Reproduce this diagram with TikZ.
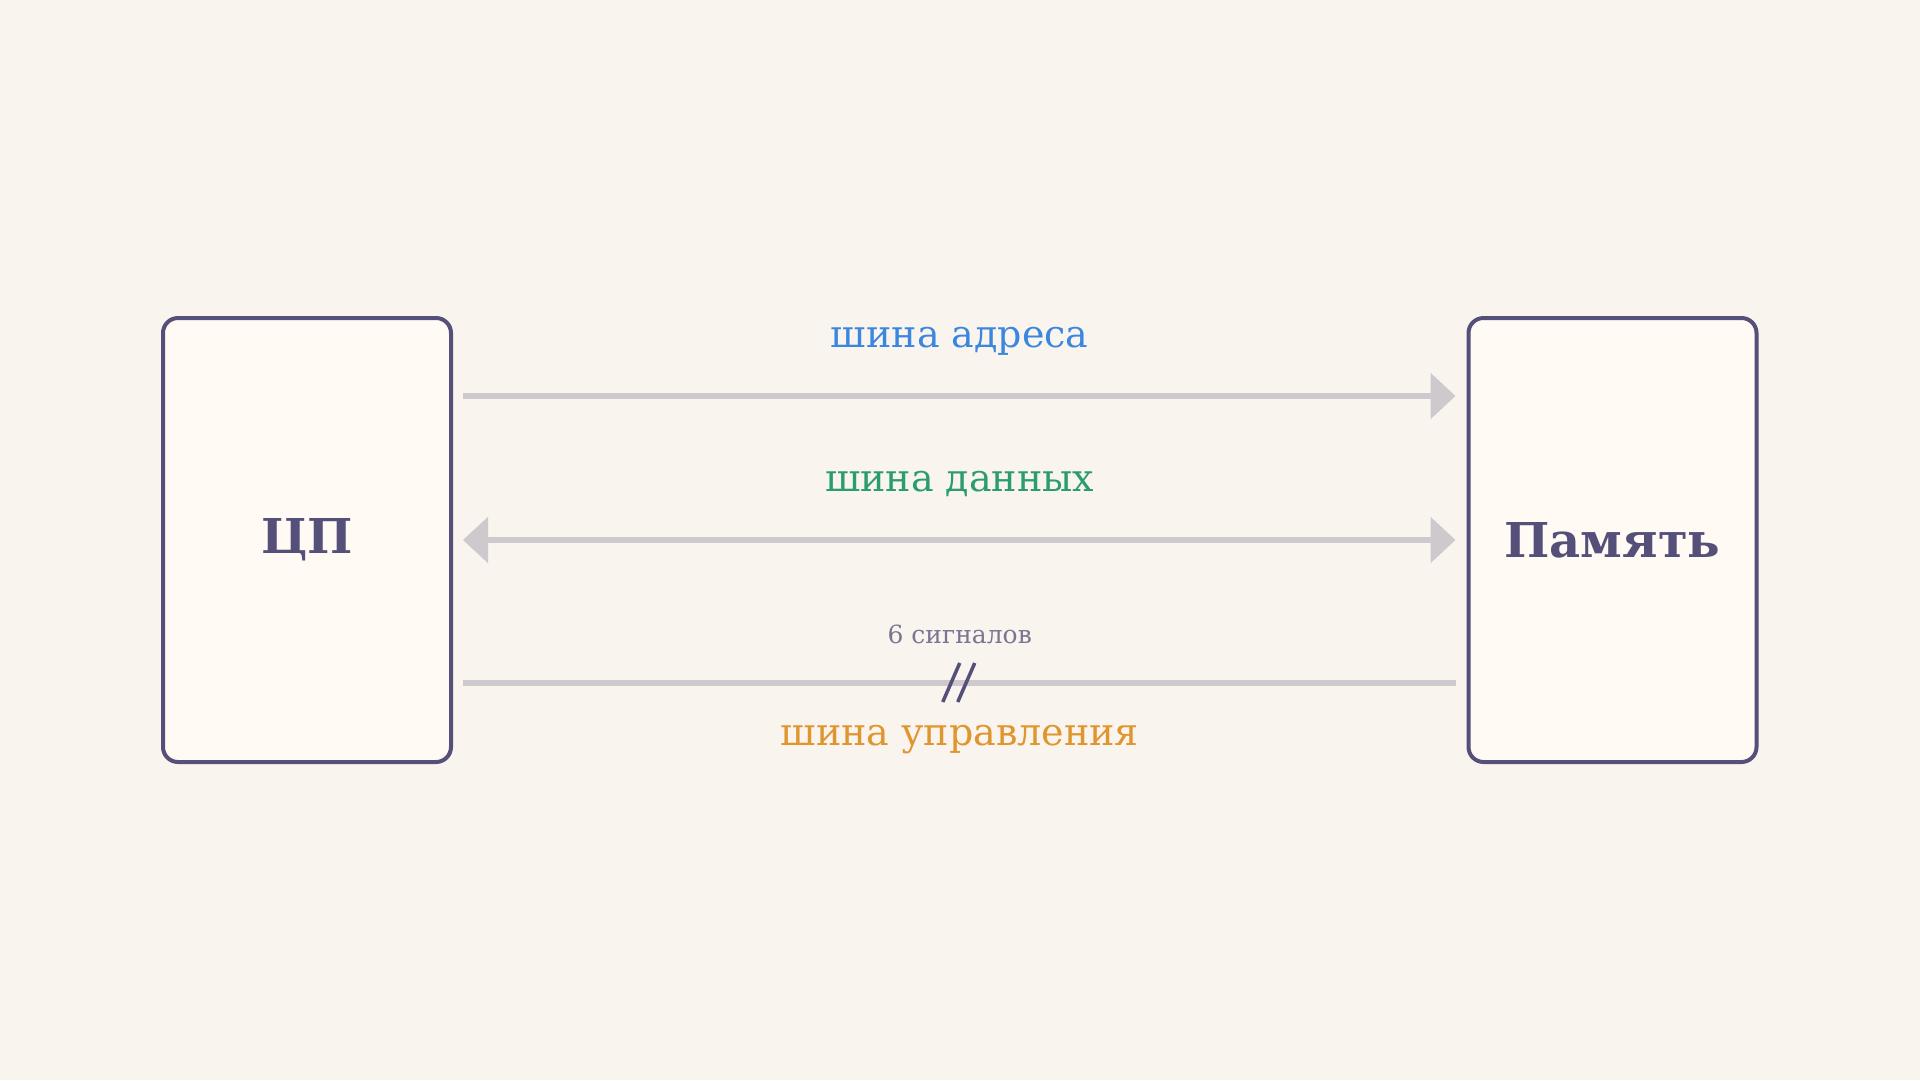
\documentclass[tikz,border=0pt]{standalone}
\usepackage{fontspec}
\setmainfont{DejaVu Serif}
\usetikzlibrary{arrows.meta}

\definecolor{bgcol}{HTML}{FAF4EE}
\definecolor{boxfill}{HTML}{FFFAF4}
\definecolor{boxline}{HTML}{55507A}
\definecolor{buscol}{HTML}{CDC9CD}
\definecolor{addrcol}{HTML}{3B87E0}
\definecolor{datacol}{HTML}{2A9D6A}
\definecolor{ctrlcol}{HTML}{E0962F}
\definecolor{notecol}{HTML}{7A7592}

\tikzset{every picture/.style={line width=1pt}}
\tikzset{
  unit/.style={draw=boxline, line width=4pt, fill=boxfill, rounded corners=15pt,
    minimum width=288pt, minimum height=444pt, inner sep=0pt,
    text=boxline, font=\fontsize{48}{52}\selectfont\bfseries},
  bus/.style={draw=buscol, line width=6pt, shorten <=10pt, shorten >=11pt},
  buslabel/.style={inner sep=0pt, font=\fontsize{38}{42}\selectfont}
}

\begin{document}
\begin{tikzpicture}[x=1pt,y=1pt,yscale=-1,xscale=1]
		\useasboundingbox[fill=bgcol] (0,0) rectangle (1920,1080);

		% Units
		\node[unit] (cpu) at (307,540) {ЦП};
		\node[unit] (mem) at (1612.5,540) {Память};

		% Address bus
		\draw[bus, -{Triangle[length=25pt,width=45pt,fill=buscol]}] ([yshift=-144pt]cpu.east) -- ([yshift=-144pt]mem.west) coordinate[midway] (addrmid);
		% Data bus
		\draw[bus, {Triangle[length=25pt,width=45pt,fill=buscol]}-{Triangle[length=25pt,width=45pt,fill=buscol]}] (cpu.east) -- (mem.west) coordinate[midway] (datamid);
		% Control bus
		\draw[bus] ([yshift=143pt]cpu.east) -- ([yshift=143pt]mem.west) coordinate[midway] (ctrlmid);
		\draw[boxline, line width=3.5pt] ([xshift=-17pt,yshift=19pt]ctrlmid) -- ([xshift=0pt,yshift=-20pt]ctrlmid);
		\draw[boxline, line width=3.5pt] ([xshift=-2pt,yshift=19pt]ctrlmid) -- ([xshift=15pt,yshift=-20pt]ctrlmid);

		% Text Node
		\node[buslabel, text=addrcol, anchor=base] (addrlbl) at ([yshift=-49pt]addrmid) {шина адреса};
		% Text Node
		\node[buslabel, text=datacol, anchor=base] (datalbl) at ([yshift=-49pt]datamid) {шина данных};
		% Text Node
		\node[inner sep=0pt, font=\fontsize{25}{28}\selectfont, text=notecol, anchor=base] (ctrlnote) at ([yshift=-40pt]ctrlmid) {6 сигналов};
		% Text Node
		\node[buslabel, text=ctrlcol, anchor=base] (ctrllbl) at ([yshift=62pt]ctrlmid) {шина управления};

\end{tikzpicture}
\end{document}
